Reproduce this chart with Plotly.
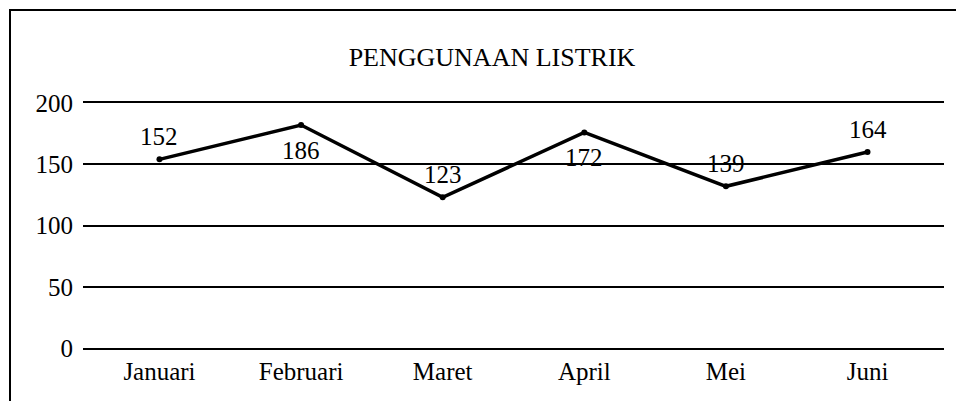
import plotly.graph_objects as go

months = ["Januari", "Februari", "Maret", "April", "Mei", "Juni"]
usage = [154, 182, 123, 176, 132, 160]
label_text = ["152", "186", "123", "172", "139", "164"]
label_above = [True, False, True, False, True, True]
y_ticks = [0, 50, 100, 150, 200]
title_text = "PENGGUNAAN LISTRIK"

FONT = "Liberation Serif, Times New Roman, serif"
FS = 25

fig = go.Figure()
fig.add_trace(go.Scatter(
    x=months, y=usage,
    mode="lines+markers",
    line=dict(color="black", width=3.5),
    marker=dict(color="black", size=6),
    cliponaxis=False,
    showlegend=False,
    hoverinfo="skip",
))

annotations = []
for m, v, t, up in zip(months, usage, label_text, label_above):
    annotations.append(dict(
        x=m, y=v, xref="x", yref="y", text=t, showarrow=False,
        xanchor="center", yanchor="middle",
        yshift=23 if up else -25,
        font=dict(family=FONT, size=FS, color="black"),
    ))

# page body adds an 8px offset; layout coordinates below compensate for it
W, H = 964, 401
ml, mr, mt, mb = 75, 28, 95, 61
pw, ph = W - ml - mr, H - mt - mb

fig.update_layout(
    width=W, height=H,
    margin=dict(l=ml, r=mr, t=mt, b=mb, pad=0),
    paper_bgcolor="white", plot_bgcolor="white",
    font=dict(family=FONT, size=FS, color="black"),
    title=dict(text=title_text, x=484 / W, xanchor="center",
               y=1 - 49 / H, yanchor="middle",
               font=dict(family=FONT, size=26, color="black")),
    xaxis=dict(range=[-0.54, 5.54], showgrid=False, zeroline=False,
               showline=True, linecolor="black", linewidth=2, mirror=True,
               ticks="", automargin=False,
               tickfont=dict(family=FONT, size=FS, color="black"),
               ticklabelstandoff=0),
    yaxis=dict(range=[0, 200], tickvals=y_ticks, showgrid=True, gridcolor="black",
               gridwidth=2, zeroline=False, showline=False, ticks="", automargin=False,
               tickfont=dict(family=FONT, size=FS, color="black"),
               ticklabelstandoff=9),
    annotations=annotations,
    shapes=[dict(type="rect", xref="paper", yref="paper",
                 x0=(2 - ml) / pw, x1=1.2, y0=-0.6, y1=1 + (mt - 2) / ph,
                 line=dict(color="black", width=2), fillcolor="rgba(0,0,0,0)", layer="below")],
)

fig.write_html("out.html")
